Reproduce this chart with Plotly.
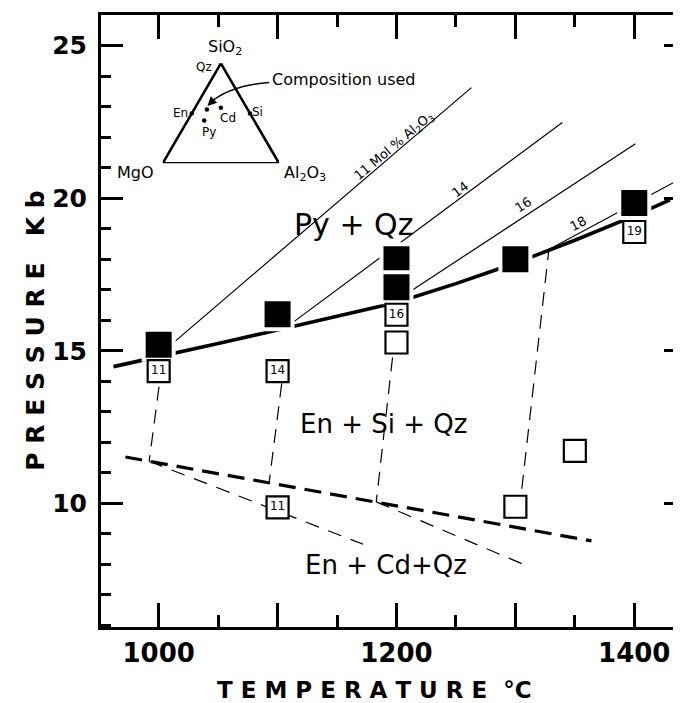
import plotly.graph_objects as go

# ---------------- data ----------------
# experimental runs: filled squares (Py + Qz stable)
filled_T = [1000, 1100, 1200, 1200, 1300, 1400]
filled_P = [15.2, 16.2, 18.0, 17.08, 18.0, 19.84]

# open squares carrying a mol% Al2O3 number
open_num_T = [1000, 1100, 1200, 1100, 1400]
open_num_P = [14.33, 14.33, 16.18, 9.87, 18.89]
open_num_lab = ["11", "14", "16", "11", "19"]

# open squares without number
open_T = [1200, 1300, 1350]
open_P = [15.27, 9.89, 11.72]

# heavy solid boundary Py+Qz / En+Si+Qz
bound_T = [962, 1000, 1050, 1100, 1150, 1200, 1250, 1300, 1350, 1400, 1430]
bound_P = [14.48, 14.8, 15.24, 15.68, 16.12, 16.58, 17.2, 17.87, 18.62, 19.42, 19.94]

# heavy dashed boundary En+Si+Qz / En+Cd+Qz
low_T = [972, 1364]
low_P = [11.52, 8.77]

# isopleths (mol % Al2O3) in Py + Qz field
iso_lab = ["11 Mol % Al<sub>2</sub>O<sub>3</sub>", "14", "16", "18"]
iso_T0 = [1000, 1105, 1200, 1325]
iso_P0 = [14.85, 15.7, 16.65, 18.25]
iso_T1 = [1263, 1339.5, 1401, 1435]
iso_P1 = [23.62, 22.48, 21.78, 20.55]
iso_lab_T = [1198, 1253.6, 1307, 1353]
iso_lab_P = [21.69, 20.28, 19.79, 19.16]
iso_lab_ang = [-40, -37, -33, -28]

# thin dashed tie lines
tie_T0 = [1000.3, 1103.5, 1196.7, 1305.4]
tie_P0 = [13.82, 13.93, 14.78, 10.48]
tie_T1 = [992, 1093, 1183, 1328]
tie_P1 = [11.38, 10.72, 10.05, 18.25]

# thin dashed lines into En + Cd + Qz field
cd_T0 = [992, 1183]
cd_P0 = [11.38, 10.05]
cd_T1 = [1172, 1310]
cd_P1 = [8.66, 7.95]

# field labels
field_lab = ["Py + Qz", "En + Si + Qz", "En + Cd+Qz"]
field_T = [1164, 1189, 1191.6]
field_P = [19.15, 12.6, 7.98]
field_size = [30, 26, 26]

# axis ticks
x_ticks = [1000, 1100, 1200, 1300, 1400]
x_ticktext = ["1000", "", "1200", "", "1400"]
x_minor = [1050, 1150, 1250, 1350]
y_ticks = [10, 15, 20, 25]
y_ticktext = ["10", "15", "20", "25"]

# inset ternary MgO - Al2O3 - SiO2 (mole fractions)
tern_names = ["Qz", "En", "Si", "Cd", "Py"]
tern_mgo = [0.0, 0.5, 0.0, 0.222, 0.429]
tern_al = [0.0, 0.0, 0.5, 0.222, 0.143]
tern_si = [1.0, 0.5, 0.5, 0.556, 0.428]
comp_used = [0.35, 0.11, 0.54]
vert_names = ["MgO", "Al<sub>2</sub>O<sub>3</sub>", "SiO<sub>2</sub>"]
vert_mgo = [1.0, 0.0, 0.0]
vert_al = [0.0, 1.0, 0.0]
vert_si = [0.0, 0.0, 1.0]

FONT = "DejaVu Sans"


def tern_xy(m, a, s):
    tot = m + a + s
    return (a + 0.5 * s) / tot, s / tot


fig = go.Figure()

# heavy solid boundary
fig.add_trace(go.Scatter(x=bound_T, y=bound_P, mode="lines",
                         line=dict(color="black", width=3.6), hoverinfo="skip"))
# heavy dashed boundary
fig.add_trace(go.Scatter(x=low_T, y=low_P, mode="lines",
                         line=dict(color="black", width=3.2, dash="17px,9px"), hoverinfo="skip"))
# isopleths
for t0, p0, t1, p1 in zip(iso_T0, iso_P0, iso_T1, iso_P1):
    fig.add_trace(go.Scatter(x=[t0, t1], y=[p0, p1], mode="lines",
                             line=dict(color="black", width=1.2), hoverinfo="skip"))
# tie lines
for t0, p0, t1, p1 in zip(tie_T0, tie_P0, tie_T1, tie_P1):
    fig.add_trace(go.Scatter(x=[t0, t1], y=[p0, p1], mode="lines",
                             line=dict(color="black", width=1.2, dash="14px,9px"), hoverinfo="skip"))
for t0, p0, t1, p1 in zip(cd_T0, cd_P0, cd_T1, cd_P1):
    fig.add_trace(go.Scatter(x=[t0, t1], y=[p0, p1], mode="lines",
                             line=dict(color="black", width=1.2, dash="14px,10px"), hoverinfo="skip"))

# filled squares with white halo
fig.add_trace(go.Scatter(x=filled_T, y=filled_P, mode="markers",
                         marker=dict(symbol="square", size=30, color="black",
                                     line=dict(color="white", width=4)), hoverinfo="skip"))
# open squares
fig.add_trace(go.Scatter(x=open_T, y=open_P, mode="markers",
                         marker=dict(symbol="square", size=22, color="white",
                                     line=dict(color="black", width=2.2)), hoverinfo="skip"))
fig.add_trace(go.Scatter(x=open_num_T, y=open_num_P, mode="markers+text",
                         text=open_num_lab, textposition="middle center",
                         textfont=dict(family=FONT, size=12, color="black"),
                         marker=dict(symbol="square", size=22, color="white",
                                     line=dict(color="black", width=2.2)), hoverinfo="skip"))

# ---- inset ternary ----
tri_x, tri_y = [], []
for m, a, s in zip(vert_mgo + vert_mgo[:1], vert_al + vert_al[:1], vert_si + vert_si[:1]):
    xx, yy = tern_xy(m, a, s)
    tri_x.append(xx)
    tri_y.append(yy)
fig.add_trace(go.Scatter(x=tri_x, y=tri_y, xaxis="x2", yaxis="y2", mode="lines",
                         line=dict(color="black", width=2.6), hoverinfo="skip"))
ph_x, ph_y = [], []
for m, a, s in zip(tern_mgo, tern_al, tern_si):
    xx, yy = tern_xy(m, a, s)
    ph_x.append(xx)
    ph_y.append(yy)
cu_x, cu_y = tern_xy(*comp_used)
fig.add_trace(go.Scatter(x=ph_x + [cu_x], y=ph_y + [cu_y], xaxis="x2", yaxis="y2", mode="markers",
                         marker=dict(color="black", size=4.5), hoverinfo="skip"))

annotations = []
# phase labels in the inset
ph_shift = {"Qz": (-17, -4), "En": (-11, 0), "Si": (8, 1), "Cd": (7, -10), "Py": (5, -11)}
for name, xx, yy in zip(tern_names, ph_x, ph_y):
    dx, dy = ph_shift[name]
    annotations.append(dict(x=xx, y=yy, xref="x2", yref="y2", text=name, showarrow=False,
                            xshift=dx, yshift=dy, xanchor="center", yanchor="middle",
                            font=dict(family=FONT, size=12, color="black")))
vert_shift = [(-27, -9), (26, -10), (4, 16)]
for name, m, a, s, (dx, dy) in zip(vert_names, vert_mgo, vert_al, vert_si, vert_shift):
    xx, yy = tern_xy(m, a, s)
    annotations.append(dict(x=xx, y=yy, xref="x2", yref="y2", text=name, showarrow=False,
                            xshift=dx, yshift=dy, xanchor="center", yanchor="middle",
                            font=dict(family=FONT, size=16, color="black")))
annotations.append(dict(x=0.92, y=0.84, xref="x2", yref="y2", text="Composition used",
                        showarrow=False, xanchor="left", yanchor="middle",
                        font=dict(family=FONT, size=16, color="black")))
# arrowhead
annotations.append(dict(x=cu_x + 0.005, y=cu_y + 0.035, xref="x2", yref="y2", text="",
                        showarrow=True, arrowhead=2, arrowsize=1.3, arrowwidth=1.4,
                        ax=7, ay=-7, arrowcolor="black"))

# field labels
for lab, t, p, sz in zip(field_lab, field_T, field_P, field_size):
    annotations.append(dict(x=t, y=p, xref="x", yref="y", text=lab, showarrow=False,
                            xanchor="center", yanchor="middle",
                            font=dict(family=FONT, size=sz, color="black")))
# isopleth labels
for lab, t, p, ang in zip(iso_lab, iso_lab_T, iso_lab_P, iso_lab_ang):
    annotations.append(dict(x=t, y=p, xref="x", yref="y", text=lab, showarrow=False,
                            textangle=ang, xanchor="center", yanchor="middle",
                            font=dict(family=FONT, size=13, color="black")))

# axis titles
annotations.append(dict(x=0.4677, y=-0.1029, xref="paper", yref="paper",
                        text="T E M P E R A T U R E  °C", showarrow=False,
                        xanchor="center", yanchor="middle",
                        font=dict(family=FONT, size=23, color="black", weight="bold")))
annotations.append(dict(x=-0.112, y=0.485, xref="paper", yref="paper",
                        text="P R E S S U R E   K b", showarrow=False, textangle=-90,
                        xanchor="center", yanchor="middle",
                        font=dict(family=FONT, size=25, color="black", weight="bold")))

shapes = [dict(type="path", xref="x2", yref="y2",
               path=f"M 0.915 0.81 Q 0.58 0.78 {cu_x + 0.03:.3f} {cu_y + 0.07:.3f}",
               line=dict(color="black", width=1.4))]

axis_common = dict(showgrid=False, zeroline=False, showline=True, linecolor="black",
                   linewidth=3, mirror="ticks", ticks="inside", tickcolor="black",
                   tickwidth=2.5, fixedrange=True)

fig.update_layout(
    width=681, height=703,
    margin=dict(l=93, r=0, t=7, b=84),
    paper_bgcolor="white", plot_bgcolor="white",
    showlegend=False,
    xaxis=dict(range=[951.5, 1443.5], tickvals=x_ticks, ticktext=x_ticktext, ticklen=24,
               minor=dict(tickvals=x_minor, ticks="inside", ticklen=12, tickwidth=2.5,
                          tickcolor="black", showgrid=False),
               tickfont=dict(family=FONT, size=26, color="black", weight="bold"),
               ticklabelstandoff=1, **axis_common),
    yaxis=dict(range=[5.95, 26.0], tickvals=y_ticks, ticktext=y_ticktext, ticklen=22,
               minor=dict(dtick=1, tick0=0, ticks="inside", ticklen=10, tickwidth=2.5,
                          tickcolor="black", showgrid=False),
               tickfont=dict(family=FONT, size=25, color="black", weight="bold"),
               ticklabelstandoff=6, **axis_common),
    xaxis2=dict(domain=[0.1054, 0.3044], range=[0, 1], anchor="y2", visible=False, fixedrange=True),
    yaxis2=dict(domain=[0.7576, 0.9208], range=[0, 1], anchor="x2", visible=False, fixedrange=True),
    annotations=annotations,
    shapes=shapes,
)

fig.write_html("out.html")
